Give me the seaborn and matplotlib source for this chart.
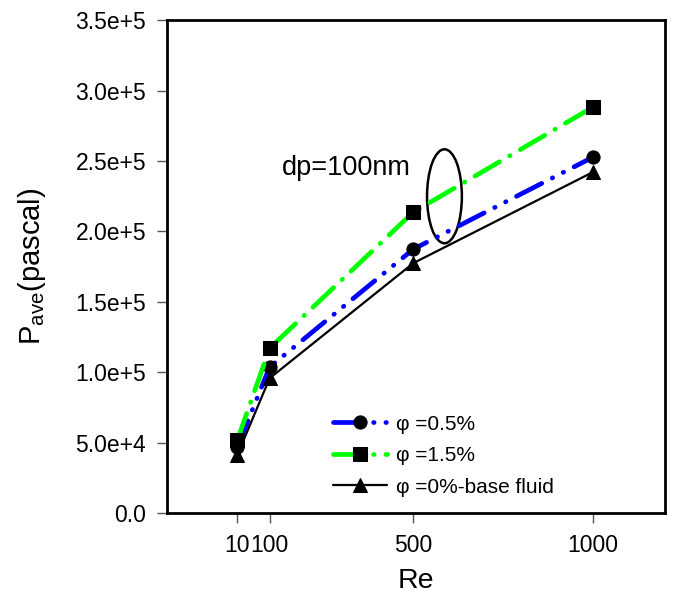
import seaborn as sns
import pandas as pd
import matplotlib.pyplot as plt
from matplotlib.patches import Ellipse
from matplotlib.ticker import FuncFormatter


re_vals = [10, 100, 500, 1000]
p_05 = [46900, 103700, 187400, 252700]   # phi = 0.5%
p_15 = [51800, 117100, 213700, 288200]   # phi = 1.5%
p_00 = [41200, 95800, 177500, 242100]    # base fluid

labels = ["\u03c6 =0.5%", "\u03c6 =1.5%", "\u03c6 =0%-base fluid"]
xticks = [10, 100, 500, 1000]

sns.set_style("ticks")
plt.rcParams['font.family'] = ['Liberation Sans', 'DejaVu Sans']
plt.rcParams['mathtext.fontset'] = 'custom'
plt.rcParams['mathtext.rm'] = 'Liberation Sans'
plt.rcParams['text.color'] = 'black'
plt.rcParams['axes.labelcolor'] = 'black'
plt.rcParams['xtick.labelcolor'] = 'black'
plt.rcParams['ytick.labelcolor'] = 'black'

fig = plt.figure(figsize=(6.73, 5.94), dpi=100)
ax = fig.add_axes([0.248, 0.136, 0.740, 0.830])

df = pd.DataFrame({"Re": re_vals, "a": p_05, "b": p_15, "c": p_00})

# blue dash-dot-dot
sns.lineplot(data=df, x="Re", y="a", ax=ax, color="#0000ff", lw=3.4,
             marker="o", markersize=9.5, markerfacecolor="black", markeredgecolor="black",
             dashes=False, label=labels[0])
ax.lines[-1].set_dashes((6, 2.5, 0.1, 2.5, 0.1, 2.5))
ax.lines[-1].set_dash_capstyle("round")
# green dash-dot
sns.lineplot(data=df, x="Re", y="b", ax=ax, color="#00ff00", lw=3.4,
             marker="s", markersize=9.5, markerfacecolor="black", markeredgecolor="black",
             dashes=False, label=labels[1])
ax.lines[-1].set_dashes((6, 2.5, 0.1, 2.5))
ax.lines[-1].set_dash_capstyle("round")
# black solid
sns.lineplot(data=df, x="Re", y="c", ax=ax, color="black", lw=1.6,
             marker="^", markersize=9.5, markerfacecolor="black", markeredgecolor="black",
             label=labels[2])

ax.set_xlim(-186, 1201)
ax.set_ylim(0, 350000)
ax.set_xticks(xticks)
ax.set_xticklabels([str(v) for v in xticks])
ax.set_yticks([0, 50000, 100000, 150000, 200000, 250000, 300000, 350000])


def fmt(v, pos):
    if v == 0:
        return "0.0"
    s = f"{v:.1e}"
    m, e = s.split("e")
    return f"{m}e+{int(e)}"


ax.yaxis.set_major_formatter(FuncFormatter(fmt))
ax.tick_params(axis="both", direction="out", length=7, width=1, color="#555555",
               labelsize=16.5, pad=8, labelcolor="black")
for sp in ax.spines.values():
    sp.set_linewidth(2)
    sp.set_color("black")

ax.set_xlabel("Re", fontsize=20.5, labelpad=8, color="black")
ax.set_ylabel("P$_{\\mathregular{ave}}$(pascal)", fontsize=21, labelpad=20, color="black")

ax.add_patch(Ellipse((587, 225000), 97, 66700, fill=False, lw=1.8, ec="black"))
ax.text(134, 245000, "dp=100nm", fontsize=19.5, va="center", ha="left", color="black")

leg = ax.legend(loc="upper left", bbox_to_anchor=(0.333, 0.20), frameon=False,
                fontsize=15, handlelength=2.6, labelspacing=0.6, handletextpad=0.45,
                borderpad=0, borderaxespad=0)
for t in leg.get_texts():
    t.set_color("black")

fig.savefig("out.png", dpi=100)
